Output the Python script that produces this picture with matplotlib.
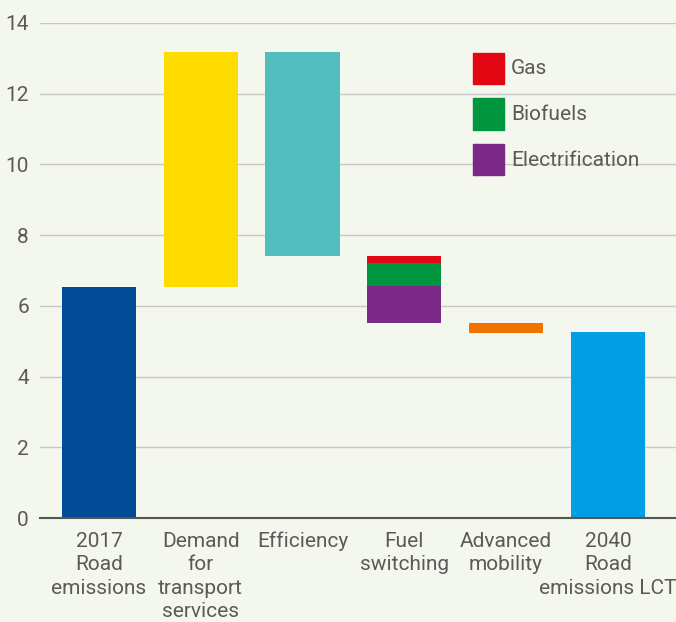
import matplotlib.pyplot as plt
from matplotlib.patches import Rectangle

plt.rcParams['font.family'] = ['Roboto', 'DejaVu Sans']

# waterfall data (Gt CO2)
categories = ["2017\nRoad\nemissions", "Demand\nfor\ntransport\nservices", "Efficiency",
              "Fuel\nswitching", "Advanced\nmobility", "2040\nRoad\nemissions LCT"]
start_2017 = 6.53
demand = 6.65
efficiency = -5.77
gas = -0.19
biofuels = -0.66
electrification = -1.04
advanced = -0.30
end_2040 = 5.26

legend_labels = ['Gas', 'Biofuels', 'Electrification']
legend_colors = ['#e30613', '#009640', '#7a2a86']

bg = '#f4f7ee'
txt = '#5a5a5a'
fs = 15

fig = plt.figure(figsize=(6.76, 6.22), dpi=100, facecolor=bg)
ax = fig.add_axes([40/676, 1 - 518/622, 1 - 40/676, 495/622], facecolor=bg)

w = 0.73
# totals
ax.bar(0, start_2017, width=w, color='#004b96', zorder=3)
ax.bar(5, end_2040, width=w, color='#009fe3', zorder=3)

# demand (up)
ax.bar(1, demand, bottom=start_2017, width=w, color='#ffdc00', zorder=3)
level = start_2017 + demand
# efficiency (down)
ax.bar(2, efficiency, bottom=level, width=w, color='#52bdbd', zorder=3)
level += efficiency
# fuel switching stack (down)
for val, col in zip([gas, biofuels, electrification], legend_colors):
    ax.bar(3, val, bottom=level, width=w, color=col, zorder=3)
    level += val
# advanced mobility
ax.bar(4, advanced, bottom=level, width=w, color='#f07300', zorder=3)

ax.set_xlim(-0.58, 5.67)
ax.set_ylim(0, 14)
ax.set_yticks(range(0, 15, 2))
ax.set_xticks(range(6))
ax.set_xticklabels(categories, fontsize=fs, color=txt, linespacing=1.3)
ax.tick_params(axis='y', length=0, labelsize=fs, labelcolor=txt, pad=8)
ax.tick_params(axis='x', length=0, pad=10)
ax.grid(axis='y', color='#c8c8c8', linewidth=1, zorder=0)
for s in ['top', 'right', 'left']:
    ax.spines[s].set_visible(False)
ax.spines['bottom'].set_color('#555555')
ax.spines['bottom'].set_linewidth(1.5)
ax.spines['bottom'].set_zorder(4)

# legend drawn as boxes in figure pixels
for i, (lab, col) in enumerate(zip(legend_labels, legend_colors)):
    top = 53 + i * 45.5
    fig.patches.append(Rectangle((473/676, 1 - (top + 31)/622), 31/676, 31/622,
                                 transform=fig.transFigure, color=col, figure=fig))
    fig.text(511/676, 1 - (top + 16)/622, lab, fontsize=fs, color=txt, va='center', ha='left')

fig.savefig('out.png', dpi=100, facecolor=bg)
